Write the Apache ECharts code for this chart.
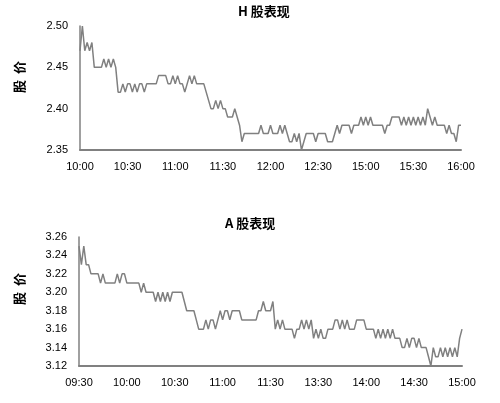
<!DOCTYPE html>
<html><head><meta charset="utf-8">
<script src="https://cdn.jsdelivr.net/npm/echarts@6/dist/echarts.min.js"></script>
<style>html,body{margin:0;padding:0;background:#fff}#c{width:500px;height:403px}</style>
</head><body><div id="c"></div>
<script>
const hTitle = 'H 股表现';
const aTitle = 'A 股表现';
const yName = '股  价';
const hTicks = ['10:00','10:30','11:00','11:30','12:00','12:30','15:00','15:30','16:00'];
const aTicks = ['09:30','10:00','10:30','11:00','11:30','13:30','14:00','14:30','15:00'];
const hValues = [
2.47,2.50,2.47,2.48,2.47,2.48,2.45,2.45,2.45,2.45,
2.46,2.45,2.46,2.45,2.46,2.45,2.42,2.42,2.43,2.42,
2.43,2.43,2.42,2.43,2.42,2.43,2.43,2.42,2.43,2.43,
2.43,2.43,2.43,2.44,2.44,2.44,2.44,2.43,2.43,2.44,
2.43,2.44,2.43,2.43,2.42,2.43,2.44,2.43,2.44,2.43,
2.43,2.43,2.43,2.42,2.41,2.40,2.40,2.41,2.40,2.41,
2.40,2.40,2.39,2.39,2.39,2.40,2.39,2.38,2.36,2.37,
2.37,2.37,2.37,2.37,2.37,2.37,2.38,2.37,2.37,2.37,
2.38,2.37,2.37,2.37,2.38,2.37,2.38,2.37,2.36,2.36,
2.37,2.36,2.37,2.35,2.36,2.37,2.37,2.37,2.37,2.36,
2.37,2.37,2.37,2.37,2.36,2.36,2.36,2.37,2.38,2.37,
2.38,2.38,2.38,2.38,2.37,2.38,2.38,2.38,2.39,2.38,
2.39,2.38,2.39,2.38,2.38,2.38,2.38,2.38,2.37,2.38,
2.38,2.39,2.39,2.39,2.39,2.38,2.39,2.38,2.39,2.38,
2.39,2.38,2.39,2.38,2.39,2.38,2.40,2.39,2.38,2.39,
2.38,2.38,2.38,2.38,2.37,2.38,2.37,2.37,2.36,2.38,
2.38];
const aValues = [
3.25,3.23,3.25,3.23,3.23,3.22,3.22,3.22,3.22,3.21,
3.22,3.21,3.21,3.21,3.21,3.21,3.22,3.21,3.22,3.22,
3.21,3.21,3.21,3.21,3.21,3.21,3.20,3.21,3.20,3.20,
3.20,3.20,3.19,3.20,3.19,3.20,3.19,3.20,3.19,3.20,
3.20,3.20,3.20,3.20,3.19,3.18,3.18,3.18,3.18,3.17,
3.16,3.16,3.16,3.17,3.16,3.17,3.17,3.16,3.17,3.18,
3.17,3.18,3.18,3.17,3.18,3.18,3.18,3.18,3.17,3.17,
3.17,3.17,3.17,3.17,3.17,3.18,3.18,3.19,3.18,3.18,
3.18,3.19,3.16,3.17,3.16,3.17,3.16,3.16,3.16,3.16,
3.15,3.16,3.16,3.17,3.16,3.17,3.16,3.17,3.15,3.16,
3.15,3.16,3.15,3.15,3.16,3.16,3.16,3.17,3.17,3.16,
3.17,3.16,3.17,3.16,3.16,3.16,3.17,3.17,3.17,3.17,
3.16,3.16,3.16,3.16,3.15,3.16,3.15,3.16,3.15,3.16,
3.15,3.16,3.15,3.15,3.15,3.14,3.14,3.15,3.14,3.15,
3.15,3.14,3.15,3.14,3.14,3.14,3.13,3.12,3.14,3.13,
3.13,3.14,3.13,3.14,3.13,3.14,3.13,3.14,3.13,3.15,
3.16];

const step = (hValues.length - 1) / (hTicks.length - 1);
const cats = hValues.map((_, i) => i);
const font = '"Liberation Sans", Arial, sans-serif';
const cjk = '"Noto Sans CJK SC", "Liberation Sans", sans-serif';

function xAxis(gi, ticks) {
  return {
    type: 'category', gridIndex: gi, data: cats, boundaryGap: false,
    axisLine: { lineStyle: { color: '#808080', width: 2 } },
    axisTick: { show: false },
    axisLabel: { interval: step - 1, color: '#000', fontFamily: font, fontSize: 11, margin: 11,
      formatter: (v, idx) => ticks[Math.round(idx / step)] },
    splitLine: { show: false }
  };
}
function yAxis(gi, min, max, interval) {
  return {
    type: 'value', gridIndex: gi, min, max, interval,
    axisLine: { show: true, lineStyle: { color: '#808080', width: 1.5 } },
    axisTick: { show: false },
    axisLabel: { color: '#000', fontFamily: font, fontSize: 11, margin: 12,
      formatter: v => v.toFixed(2) },
    splitLine: { show: false }
  };
}

const chart = echarts.init(document.getElementById('c'), null, { renderer: 'canvas' });
chart.setOption({
  animation: false,
  backgroundColor: '#fff',
  grid: [
    { left: 80, top: 26, width: 381, height: 124 },
    { left: 79, top: 237, width: 383, height: 129 }
  ],
  xAxis: [xAxis(0, hTicks), xAxis(1, aTicks)],
  yAxis: [yAxis(0, 2.35, 2.50, 0.05), yAxis(1, 3.12, 3.26, 0.02)],
  series: [
    { type: 'line', xAxisIndex: 0, yAxisIndex: 0, data: hValues, showSymbol: false,
      lineStyle: { color: '#808080', width: 1.5 } },
    { type: 'line', xAxisIndex: 1, yAxisIndex: 1, data: aValues, showSymbol: false,
      lineStyle: { color: '#808080', width: 1.5 } }
  ],
  graphic: [
    { type: 'text', left: 238, top: 5, style: { text: hTitle, font: 'bold 13px ' + cjk, fill: '#000' } },
    { type: 'text', left: 225, top: 217, style: { text: aTitle, font: 'bold 13px ' + cjk, fill: '#000' } },
    { type: 'text', x: 19, y: 77, rotation: Math.PI / 2,
      style: { text: yName, font: 'bold 13px ' + cjk, fill: '#000', align: 'center', verticalAlign: 'middle' } },
    { type: 'text', x: 19, y: 289, rotation: Math.PI / 2,
      style: { text: yName, font: 'bold 13px ' + cjk, fill: '#000', align: 'center', verticalAlign: 'middle' } }
  ]
});
</script></body></html>
